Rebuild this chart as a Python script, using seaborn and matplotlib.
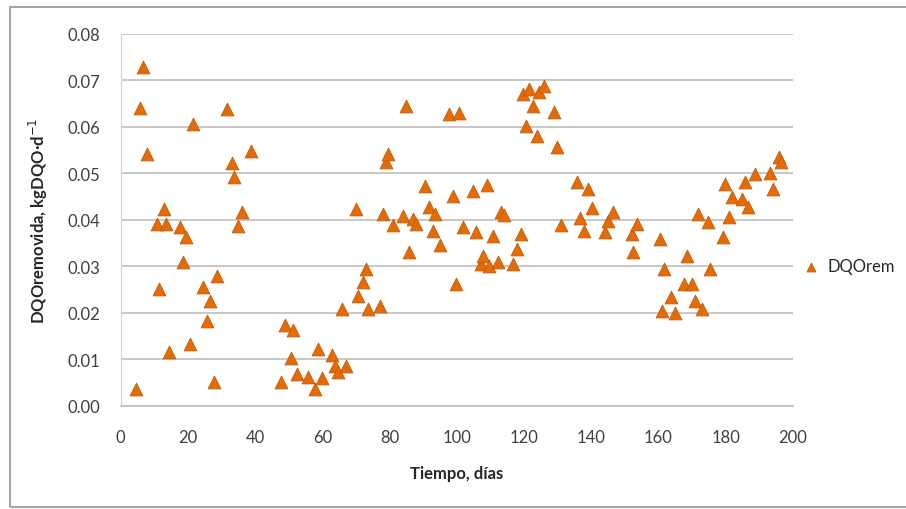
import matplotlib
matplotlib.use("Agg")
from matplotlib import pyplot as plt
from matplotlib.patches import Rectangle
import pandas as pd
import seaborn as sns

# tiempo (dias) y DQO removida (kgDQO/d)
dias = [
    4.6, 5.7, 6.5, 7.7, 10.7, 11.5, 12.9, 13.5, 14.5, 17.6, 18.6, 19.4, 20.6, 21.6,
    24.6, 25.6, 26.6, 27.8, 28.6, 31.5, 33.0, 33.7, 35.0, 36.0, 38.7, 47.6, 48.9,
    50.6, 51.2, 52.4, 55.8, 57.8, 58.8, 59.8, 62.8, 63.8, 64.8, 65.8, 67.0, 70.0,
    70.7, 72.2, 73.0, 73.7, 77.2, 78.0, 79.0, 79.6, 80.9, 83.9, 84.9, 85.9, 86.9,
    87.9, 90.6, 91.9, 92.9, 93.5, 94.9, 97.7, 98.8, 99.8, 100.7, 101.8, 104.8,
    105.7, 107.1, 107.9, 109.1, 109.7, 110.7, 112.4, 113.1, 114.0, 116.8, 118.0,
    119.0, 119.6, 120.6, 121.6, 122.8, 124.0, 124.6, 126.0, 129.0, 129.8, 130.9,
    135.9, 136.8, 137.8, 139.2, 140.2, 144.1, 145.1, 146.4, 152.1, 152.6, 153.6,
    160.6, 161.0, 161.6, 163.9, 164.9, 167.7, 168.5, 170.0, 170.8, 171.9, 172.9,
    174.9, 175.4, 179.2, 179.8, 181.1, 181.8, 184.8, 185.8, 186.8, 188.8, 193.3,
    194.1, 195.8, 196.5,
]
dqo_rem = [
    0.0036, 0.0640, 0.0728, 0.0541, 0.0391, 0.0251, 0.0424, 0.0391, 0.0115, 0.0384,
    0.0308, 0.0362, 0.0133, 0.0606, 0.0255, 0.0183, 0.0226, 0.0052, 0.0280, 0.0637,
    0.0522, 0.0491, 0.0387, 0.0417, 0.0548, 0.0050, 0.0174, 0.0102, 0.0163, 0.0068,
    0.0061, 0.0036, 0.0122, 0.0059, 0.0108, 0.0086, 0.0072, 0.0209, 0.0086, 0.0423,
    0.0237, 0.0265, 0.0293, 0.0208, 0.0215, 0.0412, 0.0525, 0.0541, 0.0389, 0.0409,
    0.0644, 0.0330, 0.0401, 0.0391, 0.0472, 0.0427, 0.0376, 0.0412, 0.0346, 0.0627,
    0.0450, 0.0262, 0.0629, 0.0384, 0.0462, 0.0373, 0.0305, 0.0323, 0.0475, 0.0301,
    0.0366, 0.0308, 0.0417, 0.0410, 0.0305, 0.0337, 0.0369, 0.0670, 0.0601, 0.0680,
    0.0644, 0.0581, 0.0675, 0.0688, 0.0631, 0.0556, 0.0389, 0.0482, 0.0403, 0.0376,
    0.0465, 0.0425, 0.0373, 0.0398, 0.0417, 0.0369, 0.0331, 0.0391, 0.0358, 0.0204,
    0.0294, 0.0233, 0.0199, 0.0262, 0.0321, 0.0262, 0.0226, 0.0412, 0.0209, 0.0394,
    0.0295, 0.0362, 0.0477, 0.0405, 0.0448, 0.0445, 0.0482, 0.0427, 0.0498, 0.0500,
    0.0465, 0.0534, 0.0525,
]
x_ticks = [0, 20, 40, 60, 80, 100, 120, 140, 160, 180, 200]
y_ticks = [0.00, 0.01, 0.02, 0.03, 0.04, 0.05, 0.06, 0.07, 0.08]

df = pd.DataFrame({"Tiempo": dias, "DQOrem": dqo_rem})

sns.set_style("white")
plt.rcParams["font.family"] = ["Lato", "DejaVu Sans"]

fig = plt.figure(figsize=(9.06, 5.10), dpi=100)
# marco del area del grafico
fig.patches.append(Rectangle((10 / 906, 2 / 510), 1.0, 500 / 510, transform=fig.transFigure,
                             fill=False, edgecolor="#a6a6a6", linewidth=1.5))
ax = fig.add_axes([0.1332, 0.2025, 0.7418, 0.7295])

sns.scatterplot(data=df, x="Tiempo", y="DQOrem", ax=ax, marker="^", s=85,
                color="#E36C09", edgecolor="#C55A06", linewidth=0.6, label="DQOrem", zorder=3)

ax.set_xlim(0, 200)
ax.set_ylim(0, 0.08)
ax.set_xticks(x_ticks)
ax.set_yticks(y_ticks)
ax.set_yticklabels([f"{v:.2f}" for v in y_ticks])
ax.tick_params(axis="both", labelsize=12, colors="#404040", length=0)
ax.tick_params(axis="x", pad=17)
ax.tick_params(axis="y", pad=15)
ax.yaxis.grid(True, color="#bfbfbf", linewidth=1.2)
ax.xaxis.grid(False)
for side in ["top", "right"]:
    ax.spines[side].set_visible(False)
ax.spines["left"].set_color("#d0d0d0")
ax.spines["bottom"].set_color("#bfbfbf")
ax.spines["bottom"].set_linewidth(1.2)

ax.set_xlabel("Tiempo, días", fontsize=12, fontweight="bold", labelpad=14)
ax.set_ylabel("DQOremovida, kgDQO·d$^{-1}$", fontsize=12, fontweight="bold", labelpad=12)

ax.legend(loc="center left", bbox_to_anchor=(0.985, 0.375), frameon=False, fontsize=12,
          handletextpad=0.0, markerscale=0.7, borderaxespad=0.3)

plt.savefig("out.png", dpi=100)
plt.close()
